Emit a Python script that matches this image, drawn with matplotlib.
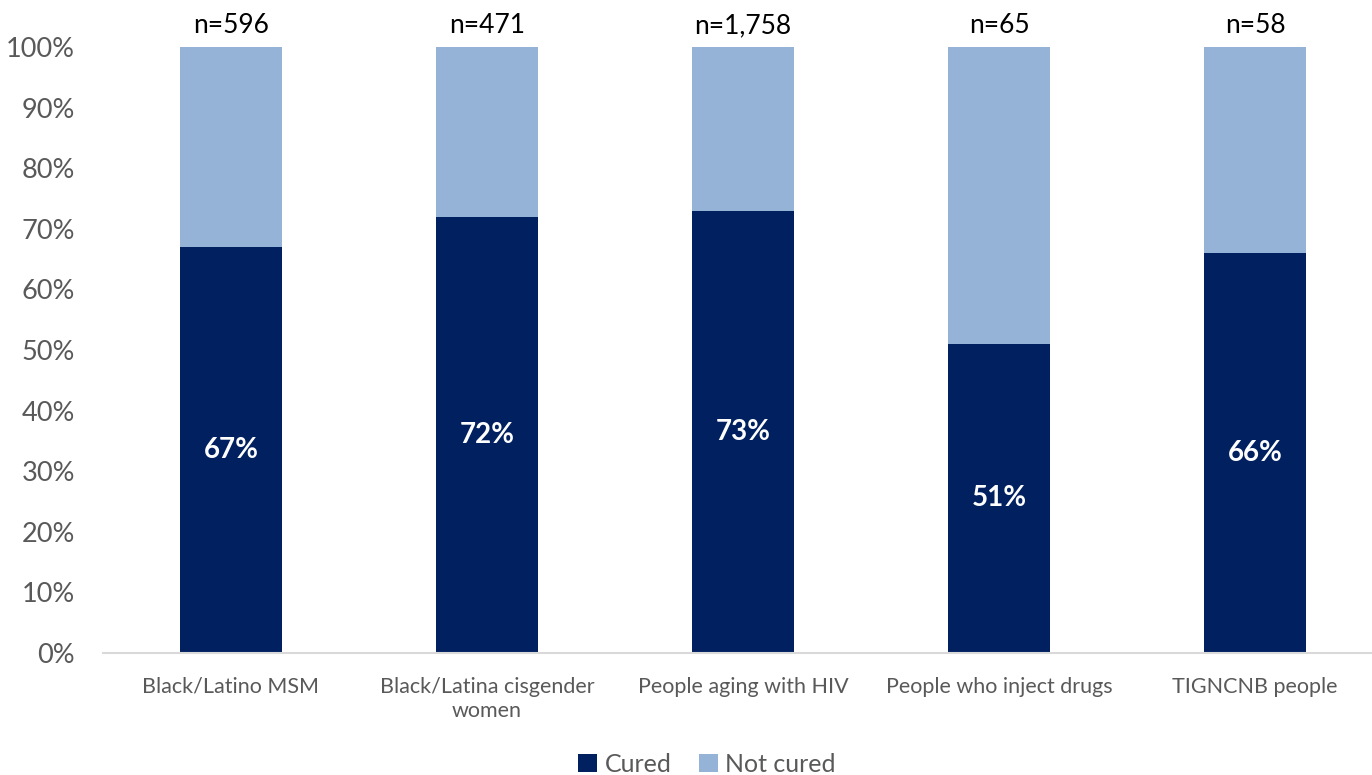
import matplotlib.pyplot as plt
from matplotlib.ticker import PercentFormatter

categories = ['Black/Latino MSM', 'Black/Latina cisgender\nwomen', 'People aging with HIV',
              'People who inject drugs', 'TIGNCNB people']
cured = [67, 72, 73, 51, 66]
not_cured = [33, 28, 27, 49, 34]
sample_sizes = ['n=596', 'n=471', 'n=1,758', 'n=65', 'n=58']

plt.rcParams['font.family'] = ['Lato', 'DejaVu Sans']

fig = plt.figure(figsize=(13.72, 7.75), dpi=100)
ax = fig.add_axes([103 / 1372, 1 - 653 / 775, 1 - 103 / 1372, (653 - 47) / 775])

x = range(len(categories))
b1 = ax.bar(x, cured, width=0.4, color='#002060', label='Cured')
b2 = ax.bar(x, not_cured, width=0.4, bottom=cured, color='#95B3D7', label='Not cured')

for i, v in enumerate(cured):
    ax.text(i, v / 2, f'{v}%', ha='center', va='center', color='white',
            fontsize=20, fontweight='bold')
    ax.text(i, 101.5, sample_sizes[i], ha='center', va='bottom', color='black', fontsize=19)

ax.set_ylim(0, 100)
ax.set_xlim(-0.5, (1372 - 231) / 256)
ax.set_yticks(range(0, 101, 10))
ax.yaxis.set_major_formatter(PercentFormatter(decimals=0))
ax.set_xticks(list(x))
ax.set_xticklabels(categories, fontsize=15.5, color='#595959', linespacing=1.3)
ax.tick_params(axis='y', labelsize=19.5, labelcolor='#595959', length=0, pad=20)
ax.tick_params(axis='x', length=0, pad=17)

for s in ['top', 'right', 'left']:
    ax.spines[s].set_visible(False)
ax.spines['bottom'].set_color('#d9d9d9')
ax.spines['bottom'].set_linewidth(1.5)

fig.legend(handles=[b1, b2], loc='center', bbox_to_anchor=(707 / 1372, 1 - 764 / 775),
           ncol=2, frameon=False, fontsize=18, labelcolor='#595959',
           handlelength=0.75, handleheight=0.75, handletextpad=0.3, columnspacing=1.1)

fig.savefig('out.png', dpi=100)
plt.close(fig)
